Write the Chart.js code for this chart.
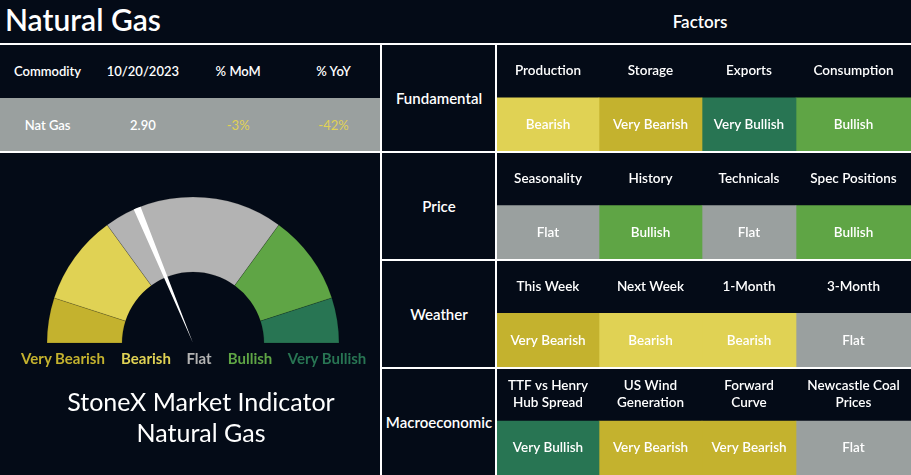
<!DOCTYPE html>
<html>
<head>
<meta charset="utf-8">
<script src="https://cdn.jsdelivr.net/npm/chart.js@4.4.0/dist/chart.umd.min.js"></script>
<style>
  html, body { margin: 0; padding: 0; background: #040b17; }
  body { width: 911px; height: 475px; position: relative; overflow: hidden; font-family: Lato, 'Noto Sans', sans-serif; color: #fff; }
  .abs { position: absolute; }
  .line { position: absolute; background: #fff; }
  .ctr { position: absolute; transform: translate(-50%, -50%); white-space: nowrap; text-align: center; }
  #title { left: 5px; top: 1px; font-size: 30px; font-weight: 600; }
  #factors { left: 700px; top: 21px; font-size: 17px; font-weight: 600; }
  .th { font-size: 13px; font-weight: 600; }
  .td { font-size: 13px; font-weight: 600; }
  .gl { font-size: 15px; font-weight: 700; }
  .rowlab { font-size: 15px; font-weight: 600; }
  .big { font-size: 25px; font-weight: 400; }
</style>
</head>
<body>
<div id="title" class="abs">Natural Gas</div>
<div id="factors" class="ctr">Factors</div>

<div class="abs" style="left:0;top:98px;width:380px;height:53px;background:#9aa09f"></div>
<div id="commodity"></div>

<div class="abs" style="left:43px;top:195px;width:300px;height:150px"><canvas id="gauge"></canvas></div>
<div class="abs" style="left:43px;top:195px;width:300px;height:150px"><canvas id="needle"></canvas></div>
<div id="gaugeLabels"></div>
<div class="ctr big" style="left:201px;top:401px">StoneX Market Indicator</div>
<div class="ctr big" style="left:201px;top:432px">Natural Gas</div>

<div class="abs" style="left:497px;top:44px;width:414px;height:431px"><canvas id="grid"></canvas></div>
<div id="rowLabels"></div>

<div class="line" style="left:0;top:43px;width:911px;height:2px"></div>
<div class="line" style="left:0;top:151px;width:911px;height:2px"></div>
<div class="line" style="left:381px;top:259px;width:530px;height:2px"></div>
<div class="line" style="left:381px;top:367px;width:530px;height:2px"></div>
<div class="line" style="left:380px;top:43px;width:2px;height:432px"></div>
<div class="line" style="left:495px;top:43px;width:2px;height:432px"></div>

<script>
// ---- data ----
const commodityHeaders = ['Commodity', '10/20/2023', '% MoM', '% YoY'];
const commodityValues = ['Nat Gas', '2.90', '-3%', '-42%'];

const gaugeLabels = ['Very Bearish', 'Bearish', 'Flat', 'Bullish', 'Very Bullish'];
const gaugeBands = [1, 2, 4, 2, 1];
const needleSlices = [3.67, 0.16, 6.17];   // before needle, needle, after needle

const factorGroups = ['Fundamental', 'Price', 'Weather', 'Macroeconomic'];
const factorNames = [
    ['Production', 'Storage', 'Exports', 'Consumption'],
    ['Seasonality', 'History', 'Technicals', 'Spec Positions'],
    ['This Week', 'Next Week', '1-Month', '3-Month'],
    [['TTF vs Henry', 'Hub Spread'], ['US Wind', 'Generation'], ['Forward', 'Curve'], ['Newcastle Coal', 'Prices']]
];
const factorSignals = [
    ['Bearish', 'Very Bearish', 'Very Bullish', 'Bullish'],
    ['Flat', 'Bullish', 'Flat', 'Bullish'],
    ['Very Bearish', 'Bearish', 'Bearish', 'Flat'],
    ['Very Bullish', 'Very Bearish', 'Very Bearish', 'Flat']
];

// ---- styles ----
const signalColors = {
    'Very Bearish': '#c4b22e',
    'Bearish': '#e0d254',
    'Flat': '#9aa09f',
    'Bullish': '#5fa545',
    'Very Bullish': '#287553'
};
const gaugeColors = ['#c4b22e', '#e0d254', '#b3b3b3', '#5fa545', '#287553'];
const colWidths = [102, 103, 94, 115];

// left commodity table
const commodityBox = document.getElementById('commodity');
commodityHeaders.forEach((h, i) => {
    const x = 47.6 + i * 95.3;
    commodityBox.insertAdjacentHTML('beforeend',
        `<div class="ctr th" style="left:${x}px;top:71px">${h}</div>`);
    const c = i >= 2 ? '#e0d254' : '#fff';
    const w = i >= 2 ? 400 : 600;
    commodityBox.insertAdjacentHTML('beforeend',
        `<div class="ctr td" style="left:${x}px;top:125px;color:${c};font-weight:${w}">${commodityValues[i]}</div>`);
});

// gauge labels
const gaugeLabelX = [63, 146, 199, 250, 327];
const gl = document.getElementById('gaugeLabels');
gaugeLabels.forEach((t, i) => {
    gl.insertAdjacentHTML('beforeend',
        `<div class="ctr gl" style="left:${gaugeLabelX[i]}px;top:358px;color:${gaugeColors[i]}">${t}</div>`);
});

// row labels
const rl = document.getElementById('rowLabels');
factorGroups.forEach((g, i) => {
    rl.insertAdjacentHTML('beforeend',
        `<div class="ctr rowlab" style="left:439px;top:${98 + i * 108}px">${g}</div>`);
});

// ---- gauge ----
new Chart(document.getElementById('gauge'), {
    type: 'doughnut',
    data: {
        labels: gaugeLabels,
        datasets: [{
            data: gaugeBands,
            backgroundColor: gaugeColors,
            borderColor: 'rgba(0,0,0,0.25)',
            borderWidth: 0.6
        }]
    },
    options: {
        responsive: true,
        maintainAspectRatio: false,
        animation: false,
        events: [],
        rotation: -90,
        circumference: 180,
        radius: 146,
        cutout: '48.6%',
        plugins: { legend: { display: false }, tooltip: { enabled: false } }
    }
});

new Chart(document.getElementById('needle'), {
    type: 'pie',
    data: {
        labels: ['', 'needle', ''],
        datasets: [{
            data: needleSlices,
            backgroundColor: ['rgba(0,0,0,0)', '#ffffff', 'rgba(0,0,0,0)'],
            borderWidth: 0
        }]
    },
    options: {
        responsive: true,
        maintainAspectRatio: false,
        animation: false,
        events: [],
        rotation: -90,
        circumference: 180,
        radius: 146,
        plugins: { legend: { display: false }, tooltip: { enabled: false } }
    }
});

// ---- factor grid ----
const colEdges = [0];
colWidths.forEach(w => colEdges.push(colEdges[colEdges.length - 1] + w));

const rowLabels = [];
factorGroups.forEach(g => { rowLabels.push(g + ' factors'); rowLabels.push(g); });

const gridDatasets = colWidths.map((w, c) => ({
    label: 'col' + c,
    grouped: false,
    categoryPercentage: 1,
    barPercentage: 1,
    borderWidth: 0,
    data: rowLabels.map((r, i) => i % 2 ? [colEdges[c], colEdges[c + 1]] : null),
    backgroundColor: rowLabels.map((r, i) => i % 2 ? signalColors[factorSignals[(i - 1) / 2][c]] : 'rgba(0,0,0,0)')
}));

const cellText = {
    id: 'cellText',
    afterDatasetsDraw(chart) {
        const ctx = chart.ctx;
        const xs = chart.scales.x, ys = chart.scales.y;
        ctx.save();
        ctx.fillStyle = '#ffffff';
        ctx.textAlign = 'center';
        ctx.textBaseline = 'middle';
        ctx.font = '600 13.5px Lato';
        factorGroups.forEach((g, gi) => {
            const yh = ys.getPixelForValue(gi * 2);
            const yv = ys.getPixelForValue(gi * 2 + 1);
            for (let c = 0; c < colWidths.length; c++) {
                const x = xs.getPixelForValue((colEdges[c] + colEdges[c + 1]) / 2);
                const name = factorNames[gi][c];
                if (Array.isArray(name)) {
                    ctx.fillText(name[0], x, yh - 8.5);
                    ctx.fillText(name[1], x, yh + 8.5);
                } else {
                    ctx.fillText(name, x, yh);
                }
                ctx.fillText(factorSignals[gi][c], x, yv);
            }
        });
        ctx.restore();
    }
};

new Chart(document.getElementById('grid'), {
    type: 'bar',
    data: { labels: rowLabels, datasets: gridDatasets },
    options: {
        indexAxis: 'y',
        responsive: true,
        maintainAspectRatio: false,
        animation: false,
        events: [],
        layout: { padding: 0 },
        scales: {
            x: { type: 'linear', min: 0, max: colEdges[colEdges.length - 1], display: false },
            y: { type: 'category', display: false }
        },
        plugins: { legend: { display: false }, tooltip: { enabled: false } }
    },
    plugins: [cellText]
});
</script>
</body>
</html>
